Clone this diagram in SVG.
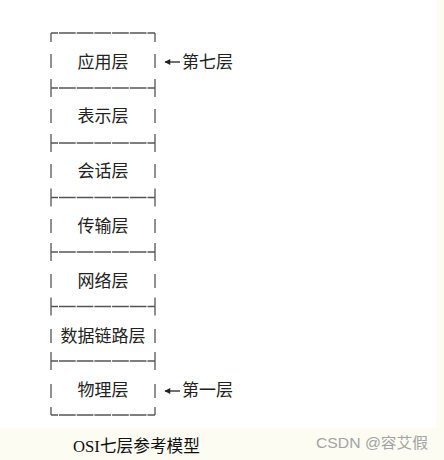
<svg xmlns="http://www.w3.org/2000/svg" width="444" height="460" viewBox="0 0 444 460">
  <defs>
    <style>
      .ln{stroke:#555;stroke-width:1.3;fill:none}
      .dash{stroke-dasharray:16.7 1;stroke-dashoffset:9.7}
      .t{font-family:"Noto Sans CJK SC","Noto Sans",sans-serif;font-size:17px;fill:#222;text-anchor:middle}
      .s{font-family:"Noto Sans CJK SC","Noto Sans",sans-serif;font-size:17px;fill:#222}
    </style>
    <marker id="ah" viewBox="0 0 10 10" refX="9" refY="5" markerWidth="5" markerHeight="4.5" orient="auto">
      <path d="M10,5 L0,0 L0,10 Z" fill="#222"/>
    </marker>
  </defs>
  <rect x="0" y="0" width="444" height="460" fill="#fcfcf3"/>
  <rect x="0" y="0" width="436" height="428" fill="#ffffff"/>

  <g id="frame">
    <path class="ln" d="M51,42 V33 M155,42 V33"/>
    <line class="ln dash" x1="51" y1="33" x2="155" y2="33"/>
    <path class="ln" d="M51,407 V415 M155,407 V415"/>
    <line class="ln dash" x1="51" y1="415" x2="155" y2="415"/>
    <g id="separators">
      <path class="ln" d="M51,79 V97 M155,79 V97"/><line class="ln dash" x1="51" y1="88" x2="155" y2="88"/>
      <path class="ln" d="M51,134 V152 M155,134 V152"/><line class="ln dash" x1="51" y1="143" x2="155" y2="143"/>
      <path class="ln" d="M51,188.5 V206.5 M155,188.5 V206.5"/><line class="ln dash" x1="51" y1="197.5" x2="155" y2="197.5"/>
      <path class="ln" d="M51,243 V261 M155,243 V261"/><line class="ln dash" x1="51" y1="252" x2="155" y2="252"/>
      <path class="ln" d="M51,297.5 V315.5 M155,297.5 V315.5"/><line class="ln dash" x1="51" y1="306.5" x2="155" y2="306.5"/>
      <path class="ln" d="M51,352 V370 M155,352 V370"/><line class="ln dash" x1="51" y1="361" x2="155" y2="361"/>
    </g>
  </g>

  <g id="layer7">
    <path class="ln" d="M51,54 V68 M155,54 V68"/>
    <text class="t" x="103" y="67.5">应用层</text>
  </g>
  <g id="layer6">
    <path class="ln" d="M51,109 V123 M155,109 V123"/>
    <text class="t" x="103" y="122.3">表示层</text>
  </g>
  <g id="layer5">
    <path class="ln" d="M51,164 V178 M155,164 V178"/>
    <text class="t" x="103" y="177.1">会话层</text>
  </g>
  <g id="layer4">
    <path class="ln" d="M51,219 V233 M155,219 V233"/>
    <text class="t" x="103" y="231.9">传输层</text>
  </g>
  <g id="layer3">
    <path class="ln" d="M51,274 V288 M155,274 V288"/>
    <text class="t" x="103" y="286.7">网络层</text>
  </g>
  <g id="layer2">
    <path class="ln" d="M51,329 V343 M155,329 V343"/>
    <text class="t" x="103" y="341.5">数据链路层</text>
  </g>
  <g id="layer1">
    <path class="ln" d="M51,384 V398 M155,384 V398"/>
    <text class="t" x="103" y="396.3">物理层</text>
  </g>

  <g id="connectors">
    <line x1="180" y1="62" x2="165" y2="62" stroke="#222" stroke-width="1.3" marker-end="url(#ah)"/>
    <line x1="180" y1="391" x2="165" y2="391" stroke="#222" stroke-width="1.3" marker-end="url(#ah)"/>
  </g>

  <g id="labels">
    <text class="s" x="182" y="67.5">第七层</text>
    <text class="s" x="182" y="396.3">第一层</text>
  </g>

  <text x="73" y="452" textLength="127" lengthAdjust="spacingAndGlyphs" style="font-family:'Liberation Serif','Noto Sans CJK SC',serif;font-size:17px;fill:#111">OSI七层参考模型</text>
  <text x="316" y="448" textLength="112" lengthAdjust="spacingAndGlyphs" style="font-family:'Liberation Sans','Noto Sans CJK SC',sans-serif;font-size:15px;fill:#a3a3a3">CSDN @容艾假</text>
</svg>
